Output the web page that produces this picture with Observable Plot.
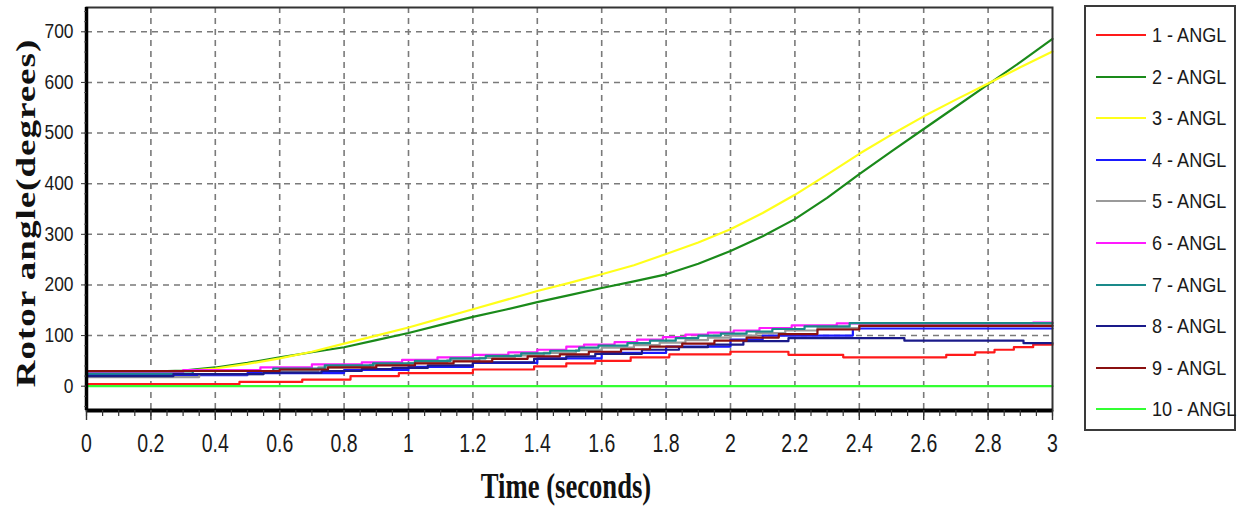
<!DOCTYPE html>
<html>
<head>
<meta charset="utf-8">
<script src="https://cdn.jsdelivr.net/npm/d3@7"></script>
<script src="https://cdn.jsdelivr.net/npm/@observablehq/plot@0.6"></script>
<style>
  html, body { margin: 0; padding: 0; background: #fff; }
  #wrap { position: relative; width: 1243px; height: 508px; overflow: hidden; }
  #chart { position: absolute; left: 0; top: 0; }
  .title { position: absolute; font-family: "Liberation Serif", "Times New Roman", serif; font-weight: bold; color: #111; white-space: nowrap; line-height: 1; }
  #legend { position: absolute; left: 1084px; top: 5px; width: 152px; height: 426px; border: 2px solid #3a3a3a; box-sizing: border-box; }
  .lg { position: absolute; left: 10px; height: 24px; display: flex; align-items: center; }
  .lg span { font-family: "Liberation Sans", Arial, sans-serif; font-size: 21px; color: #1a1a1a; display: inline-block; transform: scaleX(0.86); transform-origin: left center; white-space: nowrap; margin-left: 6px; }
</style>
</head>
<body>
<div id="wrap">
  <div id="chart"></div>
  <div id="legend"></div>
  <div class="title" id="xtitle" style="left:566px; top:486px; font-size:36px; transform: translate(-50%,-50%) scaleX(0.74);">Time (seconds)</div>
  <div class="title" id="ytitle" style="left:26px; top:213px; font-size:37px; letter-spacing:1px; transform: translate(-50%,-50%) rotate(-90deg) scaleY(0.72);">Rotor angle(degrees)</div>
</div>
<script>
// ---- Data ----
const seriesNames = ["1 - ANGL","2 - ANGL","3 - ANGL","4 - ANGL","5 - ANGL","6 - ANGL","7 - ANGL","8 - ANGL","9 - ANGL","10 - ANGL"];
const seriesColors = ["#ff1a1a","#1a8a1a","#ffff1a","#1a1aff","#9a9a9a","#ff1aff","#1a8a8a","#1a1a8a","#8a1010","#33ff33"];

const xTicks = [0,0.2,0.4,0.6,0.8,1,1.2,1.4,1.6,1.8,2,2.2,2.4,2.6,2.8,3];
const xMinorTicks = d3.range(0, 3.0001, 0.05);
const yTicks = [0,100,200,300,400,500,600,700];
const yMinorTicks = d3.range(-40, 741, 20);

// smooth series (2 and 3), sampled every 0.1 s
const tSmooth = [0,0.1,0.2,0.3,0.4,0.5,0.6,0.7,0.8,0.9,1.0,1.1,1.2,1.3,1.4,1.5,1.6,1.7,1.8,1.9,2.0,2.1,2.2,2.3,2.4,2.5,2.6,2.7,2.8,2.9,3.0];
const ang2 = [28,28,29,31,37,46,57,67,77,91,105,121,137,151,166,180,194,207,221,242,267,296,330,372,419,464,508,552,596,640,686];
const ang3 = [27,27,28,30,35,44,55,68,84,100,116,134,152,170,188,204,221,239,261,284,310,342,378,418,459,497,533,566,598,630,661];

// stepped series: times of steps and held values
const t1 = [0,0.475,0.67,0.82,0.97,1.2,1.39,1.49,1.58,1.69,1.81,2.0,2.18,2.35,2.67,2.76,2.82,2.88,2.94,3.0];
const ang1 = [4,8.5,13,20,26,33,39,45,50,57,63,68,62,57,62,67,72,77,82,82];

const t4 = [0,0.5,0.8,1.0,1.2,1.4,1.6,1.8,2.0,2.1,2.38,3.0];
const ang4 = [22,26,32,38,46,55,66,78,92,100,114,114];

const t5 = [0,0.35,0.55,0.72,0.88,1.0,1.12,1.22,1.33,1.42,1.52,1.6,1.7,1.78,1.86,1.93,2.0,2.08,2.17,2.27,2.4,3.0];
const ang5 = [18,24,30,37,42,46,51,56,61,66,71,76,81,86,91,96,100,105,110,115,120,120];

const t6 = [0,0.3,0.54,0.7,0.855,0.98,1.09,1.2,1.31,1.4,1.49,1.545,1.64,1.71,1.79,1.86,1.93,2.01,2.09,2.19,2.33,2.94,3.0];
const ang6 = [27,32,37,43,47,52,57,62,67,72,78,82,87,92,97,102,106,110,115,120,124,125.5,125.5];

const t7 = [0,0.33,0.58,0.74,0.89,1.02,1.13,1.24,1.35,1.44,1.53,1.59,1.68,1.75,1.83,1.9,1.97,2.05,2.13,2.23,2.37,3.0];
const ang7 = [25,30,35,41,45,50,55,60,65,70,76,80,85,90,95,100,104,108,113,118,124.5,124.5];

const t8 = [0,0.27,0.55,0.73,0.855,0.95,1.06,1.2,1.39,1.49,1.58,1.725,1.84,1.93,2.04,2.18,2.54,2.91,3.0];
const ang8 = [20,24,27,30,34,36,41,47,54,59,64,72,77,82,89,95,90,85,85];

const t9 = [0,0.6,0.75,0.9,1.02,1.14,1.26,1.37,1.47,1.56,1.66,1.75,1.85,1.95,2.05,2.15,2.27,2.4,3.0];
const ang9 = [30,33,37,41,45,49,54,59,63,68,73,78,84,90,96,103,112,119,119];

const t10 = [0,3.0];
const ang10 = [0,0];

// ---- build table ----
const stepSeries = {0:[t1,ang1],3:[t4,ang4],4:[t5,ang5],5:[t6,ang6],6:[t7,ang7],7:[t8,ang8],8:[t9,ang9],9:[t10,ang10]};
const smoothSeries = {1:[tSmooth,ang2],2:[tSmooth,ang3]};
function rows(i, pair) { return pair[0].map((t, k) => ({t, v: pair[1][k], s: seriesNames[i]})); }

const lineMarks = [];
for (let i = 0; i < 10; i++) {
  if (stepSeries[i]) {
    lineMarks.push(Plot.line(rows(i, stepSeries[i]), {x: "t", y: "v", stroke: seriesColors[i], strokeWidth: 2.2, curve: "step-after"}));
  } else {
    lineMarks.push(Plot.line(rows(i, smoothSeries[i]), {x: "t", y: "v", stroke: seriesColors[i], strokeWidth: 2.2, curve: "linear"}));
  }
}

const fmtX = d => d3.format("~g")(d);

const chart = Plot.plot({
  width: 1080,
  height: 508,
  marginLeft: 86,
  marginRight: 28,
  marginTop: 7,
  marginBottom: 98,
  x: {domain: [0, 3], label: null},
  y: {domain: [-48, 748], label: null},
  style: {fontFamily: "'Liberation Sans', Arial, sans-serif", color: "#1a1a1a", background: "white"},
  marks: [
    Plot.gridX(xTicks.slice(1, -1), {stroke: "#7a7a7a", strokeOpacity: 1, strokeWidth: 1.6, strokeDasharray: "6,5"}),
    Plot.gridY(yTicks, {stroke: "#7a7a7a", strokeOpacity: 1, strokeWidth: 1.6, strokeDasharray: "6,5"}),
    ...lineMarks,
    Plot.frame({stroke: "#333", strokeWidth: 2}),
    Plot.ruleX([0], {stroke: "#000", strokeWidth: 3.5}),
    Plot.ruleY([-48], {stroke: "#000", strokeWidth: 4}),
    Plot.axisX(xMinorTicks, {tickSize: 6, text: null, label: null, stroke: "#333", strokeWidth: 1.2}),
    Plot.axisX(xTicks, {tickSize: 10, tickPadding: 14, tickFormat: fmtX, fontSize: 25, label: null, stroke: "#333", strokeWidth: 1.4}),
    Plot.axisY(yMinorTicks, {tickSize: 2, text: null, label: null, stroke: "#555"}),
    Plot.axisY(yTicks, {tickSize: 5, tickPadding: 8, fontSize: 20, label: null, stroke: "#333"})
  ]
});
document.getElementById("chart").appendChild(chart);

// narrow the tick label glyphs horizontally (reference uses a condensed face)
function squeeze(sel, s) {
  d3.select(chart).selectAll(sel).each(function() {
    const el = d3.select(this);
    const tr = el.attr("transform") || "";
    const cx = +(el.attr("x") || 0);
    el.attr("transform", `${tr} translate(${cx},0) scale(${s},1) translate(${-cx},0)`);
  });
}
squeeze('g[aria-label="x-axis tick label"] text', 0.78);
squeeze('g[aria-label="y-axis tick label"] text', 0.87);

// ---- legend ----
const legend = document.getElementById("legend");
seriesNames.forEach((name, i) => {
  const row = document.createElement("div");
  row.className = "lg";
  row.style.top = (16 + i * 41.6) + "px";
  row.innerHTML = `<svg width="50" height="6"><line x1="0" x2="50" y1="3" y2="3" stroke="${seriesColors[i]}" stroke-width="2.2"/></svg><span>${name}</span>`;
  legend.appendChild(row);
});
</script>
</body>
</html>
